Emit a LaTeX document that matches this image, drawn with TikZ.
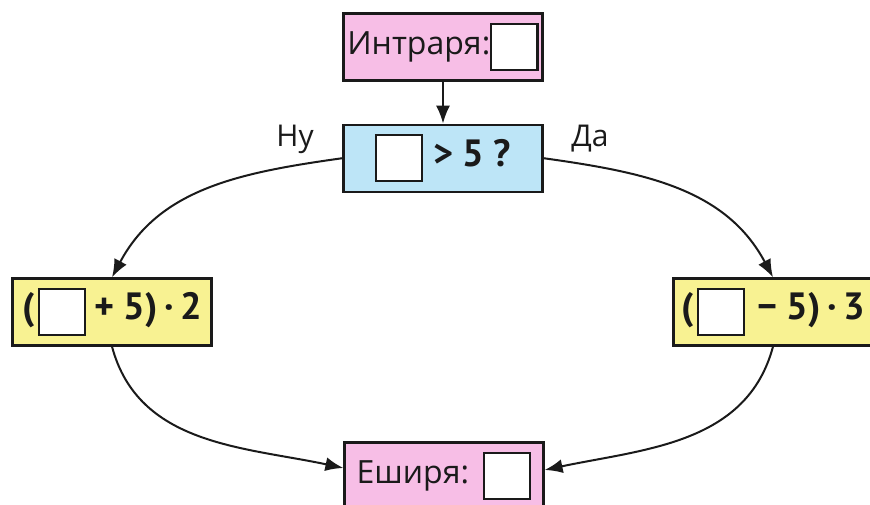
\documentclass[tikz,border=0pt]{standalone}
\usepackage{fontspec}
\usepackage{xcolor}
\usepackage{tikz}
\usetikzlibrary{arrows.meta,positioning}
\setmainfont{Open Sans}
\newfontfamily\mathfont{PT Sans}
\definecolor{inkline}{HTML}{1A1A1A}
\definecolor{pinkbox}{HTML}{F7BEE6}
\definecolor{bluebox}{HTML}{BDE5F7}
\definecolor{yellowbox}{HTML}{F8F292}
\newcommand\blank{{\setlength\fboxsep{0pt}\setlength\fboxrule{2.2pt}%
  \raisebox{-14pt}{\fcolorbox{inkline}{white}{\rule{0pt}{44pt}\hspace{44pt}}}}}
\tikzset{
  flowbox/.style={rectangle,draw=inkline,line width=2.2pt,text=inkline,align=center,
    minimum width=199pt,minimum height=67pt,inner sep=2pt,font=\fontsize{32}{36}\selectfont},
  iobox/.style={flowbox,fill=pinkbox},
  testbox/.style={flowbox,fill=bluebox,font=\mathfont\bfseries\fontsize{38}{42}\selectfont},
  calcbox/.style={flowbox,fill=yellowbox,font=\mathfont\bfseries\fontsize{38}{42}\selectfont},
  flowarr/.style={-{Latex[length=18pt,width=14pt]},line width=2pt,color=inkline},
  flowlabel/.style={font=\fontsize{30}{34}\selectfont,text=inkline},
}
\begin{document}
\begin{tikzpicture}[x=1pt,y=1pt]
  \useasboundingbox (0,0) rectangle (870,505);
  \clip (0,0) rectangle (870,505);
  \node[iobox] (intro) at (443,458) {Интраря:\blank};
  \node[testbox, below=42pt of intro] (test) {\blank\hspace{10pt}> 5 ?};
  \node[calcbox] (lhs) at (112,193) {(\hspace{3pt}\blank\hspace{8pt}+ 5)\,·\,2};
  \node[calcbox] (rhs) at (773,193) {(\hspace{3pt}\blank\hspace{12pt}− 5)\,·\,3};
  \node[iobox] (result) at (444,29) {Еширя:\hspace{14pt}\blank};

  \node[flowlabel] (no) at (295,366) {Ну};
  \node[flowlabel] (yes) at (590,366) {Да};

  \draw[flowarr] (intro) -- (test);
  \draw[flowarr] (test.west) to[out=188,in=62] (lhs.north);
  \draw[flowarr] (test.east) to[out=-8,in=118] (rhs.north);
  \draw[flowarr] (lhs.south) to[out=-75,in=168] ([yshift=8pt]result.west);
  \draw[flowarr] (rhs.south) to[out=-105,in=12] ([yshift=6pt]result.east);
\end{tikzpicture}
\end{document}
